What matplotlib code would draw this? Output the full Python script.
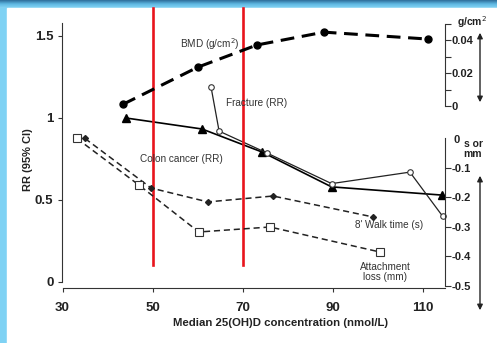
import numpy as np
import matplotlib.pyplot as plt
from matplotlib.colors import LinearSegmentedColormap
from matplotlib.patches import FancyArrowPatch
from matplotlib.ticker import FixedLocator

plt.rcParams['font.family'] = ['Liberation Sans', 'DejaVu Sans']

# data
bmd_x = [43.4, 60.1, 73.2, 88.1, 111.2]
bmd_y = [0.001, 0.0236, 0.037, 0.0448, 0.0406]          # g/cm2

colon_x = [44.1, 61.0, 74.3, 89.8, 114.3]
colon_y = [1.0, 0.933, 0.793, 0.58, 0.53]               # RR

fract_x = [63.0, 64.8, 75.4, 89.8, 107.2, 114.5]
fract_y = [1.19, 0.92, 0.787, 0.60, 0.67, 0.40]         # RR

walk_x = [35.0, 49.7, 62.3, 76.8, 99.0]
walk_y = [0.0, -0.168, -0.215, -0.195, -0.266]          # s

attach_x = [33.2, 47.0, 60.3, 76.1, 100.6]
attach_y = [0.0, -0.158, -0.317, -0.30, -0.385]         # mm

x_ticks = [30, 50, 70, 90, 110]
rr_ticks = [0, 0.5, 1, 1.5]
rr_labels = ['0', '0.5', '1', '1.5']
bmd_ticks = [0, 0.02, 0.04]
bmd_labels = ['0', '0.02', '0.04']
diff_ticks = [-0.1, -0.2, -0.3, -0.4, -0.5]
diff_labels = ['-0.1', '-0.2', '-0.3', '-0.4', '-0.5']
cutoffs = [50, 70]

W, H = 497, 343
fig = plt.figure(figsize=(W / 100, H / 100), dpi=100)
fig.patch.set_facecolor('#7fd2f4')

# white panel + dark top band
bg = fig.add_axes([0, 0, 1, 1], zorder=-10)
bg.add_patch(plt.Rectangle((7, 8), W, H, color='white'))
band = LinearSegmentedColormap.from_list('band', ['#2f6f9c', '#5fb8e2', '#86d4f4'])
bg.imshow(np.linspace(0, 1, 20).reshape(-1, 1), extent=(0, W, 8, 0), cmap=band, aspect='auto')
bg.set_xlim(0, W)
bg.set_ylim(H, 0)
bg.axis('off')

# main axes (RR)
ax = fig.add_axes([62.5 / W, 55 / H, 382.5 / W, 268.4 / H])
ax.patch.set_alpha(0)
ax.set_xlim(30, 115)
ax.set_ylim(-0.0366, 1.6)
for s in ['top', 'right']:
    ax.spines[s].set_visible(False)
ax.spines['left'].set_bounds(0, 1.58)
ax.spines['bottom'].set_bounds(30, 115)
ax.spines['left'].set_color('#333333')
ax.spines['bottom'].set_color('#333333')
ax.set_xticks(x_ticks)
ax.set_yticks(rr_ticks)
ax.set_yticklabels(rr_labels)
ax.tick_params(direction='out', length=3, width=0.8, colors='#333333', labelcolor='#222222')
for lab in ax.get_xticklabels() + ax.get_yticklabels():
    lab.set_fontweight('bold')
    lab.set_fontsize(9.5)
ax.tick_params(axis='x', pad=7)

# BMD axis (top right)
ax_b = ax.twinx()
ax_b.set_ylim(-0.1103, 0.0524)
for s in ['top', 'left', 'bottom']:
    ax_b.spines[s].set_visible(False)
ax_b.spines['right'].set_bounds(0, 0.05)
ax_b.spines['right'].set_color('#333333')
ax_b.set_yticks(bmd_ticks)
ax_b.set_yticklabels(bmd_labels)
ax_b.yaxis.set_minor_locator(FixedLocator([0.01, 0.03, 0.05]))
ax_b.tick_params(axis='y', which='both', direction='out', length=4, width=0.8, pad=1,
                 colors='#333333', labelcolor='#222222', labelsize=8)
for lab in ax_b.get_yticklabels():
    lab.set_fontweight('bold')

# walk time / attachment loss axis (lower right)
ax_d = ax.twinx()
ax_d.set_ylim(-0.5068, 0.403)
for s in ['top', 'left', 'bottom']:
    ax_d.spines[s].set_visible(False)
ax_d.spines['right'].set_bounds(-0.5, 0)
ax_d.spines['right'].set_color('#333333')
ax_d.set_yticks(diff_ticks)
ax_d.set_yticklabels(diff_labels)
ax_d.tick_params(axis='y', direction='out', length=4, width=0.8, pad=1,
                 colors='#333333', labelcolor='#222222', labelsize=8)
for lab in ax_d.get_yticklabels():
    lab.set_fontweight('bold')

# series
ax_b.plot(bmd_x, bmd_y, color='black', lw=2.2, ls=(0, (4.5, 2.5)), marker='o', ms=5,
          clip_on=False, zorder=3)
ax.plot(colon_x, colon_y, color='black', lw=1.2, marker='^', ms=5.2, zorder=3)
ax.plot(fract_x, fract_y, color='#222222', lw=0.9, marker='o', ms=4, mfc='white',
        mec='#333333', mew=0.8, clip_on=False, zorder=3)
ax_d.plot(walk_x, walk_y, color='#222222', lw=1.1, ls=(0, (4, 2.5)), marker='D', ms=3,
          zorder=3)
ax_d.plot(attach_x, attach_y, color='#222222', lw=1.1, ls=(0, (4, 2.5)), marker='s', ms=6,
          mfc='white', mec='#333333', mew=0.8, zorder=3)

# red cut-off lines
for c in cutoffs:
    ax.plot([c, c], [0.104, 1.67], color='#e8141c', lw=1.9, clip_on=False, zorder=5)

# labels on the lines
txt = dict(fontsize=7.2, color='#333333')
fig.text(180 / W, 1 - 44 / H, 'BMD (g/cm$^2$)', ha='left', va='center', **txt)
fig.text(226 / W, 1 - 103 / H, 'Fracture (RR)', ha='left', va='center', **txt)
fig.text(140 / W, 1 - 159 / H, 'Colon cancer (RR)', ha='left', va='center', **txt)
fig.text(355 / W, 1 - 225 / H, "8' Walk time (s)", ha='left', va='center', **txt)
fig.text(385 / W, 1 - 272 / H, 'Attachment\nloss (mm)', ha='center', va='center',
         linespacing=1.1, **txt)

# axis titles
bold = dict(fontweight='bold', color='#222222')
fig.text(28 / W, 1 - 160 / H, 'RR (95% CI)', rotation=90, ha='center', va='center',
         fontsize=8, **bold)
fig.text(281 / W, 1 - 323 / H, 'Median 25(OH)D concentration (nmol/L)', ha='center',
         va='center', fontsize=8.2, **bold)
fig.text(472 / W, 1 - 22 / H, 'g/cm$^2$', ha='center', va='center', fontsize=7.5, **bold)
fig.text(457 / W, 1 - 140 / H, '0', ha='center', va='center', fontsize=8, **bold)
fig.text(473 / W, 1 - 149 / H, 's or\nmm', ha='center', va='center', fontsize=7.5,
         linespacing=0.95, **bold)

# double arrows on the right
for y0, y1 in [(30, 105), (173, 313)]:
    fig.add_artist(FancyArrowPatch(
        (480 / W, 1 - y0 / H), (480 / W, 1 - y1 / H), transform=fig.transFigure,
        arrowstyle='<|-|>', mutation_scale=8, lw=1, color='#222222'))

fig.savefig('out.png', dpi=100)
